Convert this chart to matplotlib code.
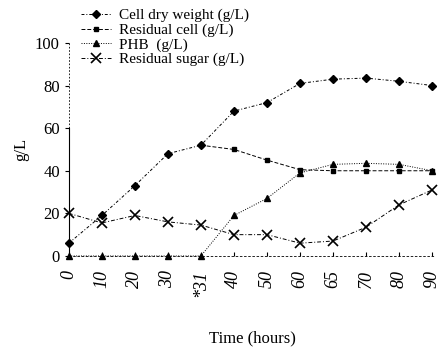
import numpy as np
import matplotlib.pyplot as plt

plt.rcParams['font.family'] = ['Liberation Serif', 'DejaVu Serif']

# categorical time axis (equally spaced)
TIME_LABELS = ['0', '10', '20', '30', '*31', '40', '50', '60', '65', '70', '80', '90']
CELL_DRY = [6, 19, 33, 48, 52, 68, 72, 81, 83, 83.5, 82, 80]
RESIDUAL_CELL = [6, 19, 33, 48, 52, 50, 45, 40.5, 40, 40, 40, 40]
PHB = [0, 0, 0, 0, 0, 19, 27, 39, 43, 43.5, 43, 40]
RESIDUAL_SUGAR = [20, 15.5, 19, 16, 14.5, 10, 10, 6, 7, 13.5, 24, 31]

x = np.arange(len(TIME_LABELS))

fig = plt.figure(figsize=(4.47, 3.55), dpi=100)
ax = fig.add_axes([0.154, 0.279, 0.82, 0.60])

ax.plot(x, CELL_DRY, color='black', lw=0.7, ls=(0, (3, 2, 1, 2)),
        marker='D', ms=4, clip_on=False, label='Cell dry weight (g/L)')
ax.plot(x[4:], RESIDUAL_CELL[4:], color='black', lw=0.7, ls=(0, (4, 2)),
        marker='s', ms=3.5, clip_on=False, label='Residual cell (g/L)')
ax.plot(x, PHB, color='black', lw=0.7, ls=(0, (1, 1.5)),
        marker='^', ms=5, clip_on=False, label='PHB  (g/L)')
ax.plot(x, RESIDUAL_SUGAR, color='black', lw=0.7, ls=(0, (4, 2, 1, 2)),
        marker='x', ms=7, mew=1.2, clip_on=False, label='Residual sugar (g/L)')

ax.set_xlim(0, 11.1)
ax.set_ylim(0, 100)
ax.set_yticks([0, 20, 40, 60, 80, 100])
ax.set_xticks(x)
ax.set_xticklabels(TIME_LABELS, rotation=90, fontsize=13, style='italic')
ax.tick_params(axis='y', labelsize=12, length=3)
ax.tick_params(axis='x', length=3, direction='in', pad=10)

for s in ['top', 'right']:
    ax.spines[s].set_visible(False)
# y axis: solid up to 60, dotted above
ax.spines['left'].set_bounds(0, 60)
ax.spines['left'].set_linewidth(0.8)
ax.axvline(0, ymin=0.6, ymax=1.0, color='black', lw=0.6, ls=(0, (2, 2)), clip_on=False)
ax.spines['bottom'].set_linewidth(0.6)
ax.spines['bottom'].set_linestyle((0, (2, 3)))

ax.set_ylabel('g/L', fontsize=12, labelpad=4)
ax.set_xlabel('Time (hours)', fontsize=12, labelpad=24)

ax.legend(loc='upper left', bbox_to_anchor=(0.016, 1.19), frameon=False,
          fontsize=11, handlelength=2.0, handletextpad=0.5,
          labelspacing=0.05, borderaxespad=0)

fig.savefig('out.png', dpi=100)
